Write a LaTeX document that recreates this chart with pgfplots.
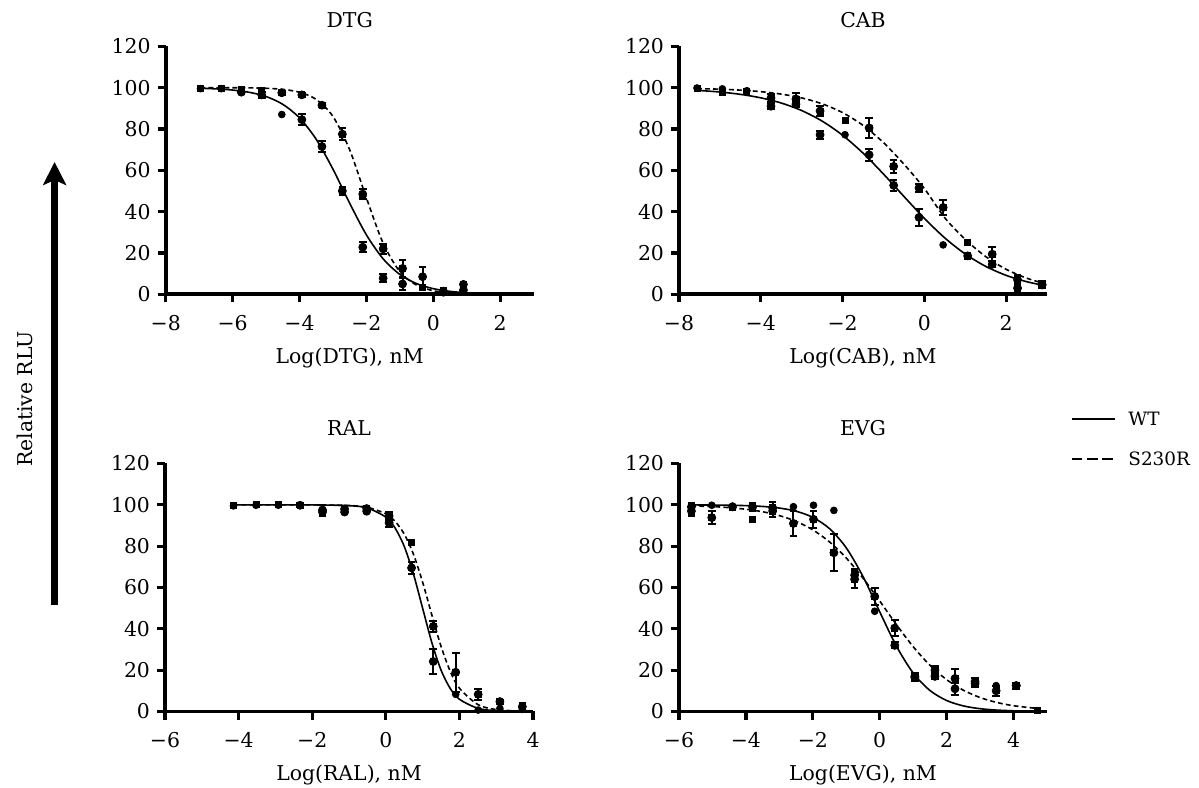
\documentclass[border=0pt]{standalone}
\usepackage{fontspec}
\setmainfont{DejaVu Serif}
\usepackage{pgfplots}
\pgfplotsset{compat=1.18}
\usetikzlibrary{arrows.meta}

\pgfplotsset{
  panel/.style={
    scale only axis, width=184bp, height=124bp, anchor=south west,
    axis x line*=bottom, axis y line*=left,
    ymin=0, ymax=120, ytick={0,20,...,120},
    yticklabels={0,20,40,60,80,100,120},
    tick align=outside, major tick length=4bp,
    axis line style={line width=1.9bp},
    every tick/.style={line width=1.6bp, black},
    xticklabel style={yshift=-3bp},
    clip=false,
    xlabel style={at={(axis description cs:0.5,0)}, anchor=base, yshift=-34.5bp},
  },
  toptitle/.style={title style={at={(axis description cs:0.5,1)}, anchor=base, yshift=3.5bp}},
  bottitle/.style={title style={at={(axis description cs:0.5,1)}, anchor=base, yshift=8bp}},
  wt/.style={black, line width=0.8bp, smooth, mark=none},
  mut/.style={black, line width=0.8bp, smooth, mark=none, dash pattern=on 2.4bp off 1.6bp},
  wtpt/.style={only marks, mark=*, mark size=1.7bp, black},
  mutpt/.style={only marks, mark=square*, mark size=1.5bp, black},
  eb/.style={only marks, mark=none, black,
    /pgfplots/error bars/y dir=both, /pgfplots/error bars/y explicit,
    /pgfplots/error bars/error bar style={line width=1bp, solid},
    /pgfplots/error bars/error mark=-,
    /pgfplots/error bars/error mark options={rotate=90, mark size=1.9bp, line width=1bp}},
}

\begin{document}
\begin{tikzpicture}[font=\fontsize{10.2bp}{12bp}\selectfont]
\useasboundingbox (0,0) rectangle (599.5bp,394bp);

% DTG
\begin{axis}[panel, toptitle, at={(82.85bp,246.85bp)},
  xmin=-8, xmax=3, xtick={-8,-6,-4,-2,0,2},
  xticklabels={−8,−6,−4,−2,0,2},
  title=DTG, xlabel={Log(DTG), nM}]
\addplot[wt] coordinates {(-6.96,99.68) (-6.5,99.40) (-6,98.83) (-5.5,97.74) (-5,95.69) (-4.5,91.92) (-4,85.37) (-3.5,74.96) (-3,60.53) (-2.5,44.03) (-2,28.75) (-1.5,17.15) (-1,9.60) (-0.5,5.16) (0,2.72) (0.5,1.41) (0.9,0.83)};
\addplot[mut] coordinates {(-6.96,99.99) (-6.5,99.98) (-6,99.95) (-5.5,99.88) (-5,99.68) (-4.5,99.15) (-4,97.76) (-3.5,94.27) (-3,86.05) (-2.5,69.9) (-2,46.6) (-1.5,24.7) (-1,10.95) (-0.5,4.43) (0,1.71) (0.5,0.65) (0.9,0.3)};
\addplot[wtpt] coordinates {(-6.96,99.5) (-6.34,99.5) (-5.74,97.8) (-5.13,96.5) (-4.53,87) (-3.93,84.5) (-3.33,71.5) (-2.72,50) (-2.11,22.8) (-1.50,7.8) (-0.92,5) (-0.32,8.5) (0.30,1.5) (0.90,2)};
\addplot[mutpt] coordinates {(-6.96,99.5) (-6.34,99.5) (-5.74,99) (-5.13,98.5) (-4.53,97.5) (-3.93,96.5) (-3.33,91.5) (-2.72,77.5) (-2.11,48.5) (-1.50,22) (-0.92,12.5) (-0.32,3.5) (0.30,1) (0.90,4.8)};
\addplot[eb] coordinates {(-5.74,97.8) +- (0,1) (-5.13,96.5) +- (0,1.5) (-3.93,84.5) +- (0,2.5) (-3.33,71.5) +- (0,2.5) (-2.72,50) +- (0,2) (-2.11,22.8) +- (0,2.5) (-1.50,7.8) +- (0,1.8) (-0.92,5) +- (0,3) (-0.32,8.5) +- (0,4.5) (0.30,1.5) +- (0,1.5) (0.90,2) +- (0,1)};
\addplot[eb] coordinates {(-4.53,97.5) +- (0,1) (-3.93,96.5) +- (0,1) (-3.33,91.5) +- (0,0.8) (-2.72,77.5) +- (0,3) (-2.11,48.5) +- (0,2.5) (-1.50,22) +- (0,2.5) (-0.92,12.5) +- (0,4) (0.30,1) +- (0,1.2) (0.90,4.8) +- (0,1.2)};
\end{axis}

% CAB
\begin{axis}[panel, toptitle, at={(339.5bp,246.85bp)},
  xmin=-6, xmax=3, xtick={-6,-4,-2,0,2},
  xticklabels={−8,−4,−2,0,2},
  title=CAB, xlabel={Log(CAB), nM}]
\addplot[wt] coordinates {(-5.56,98.69) (-5,97.88) (-4.5,96.75) (-4,95.06) (-3.5,92.55) (-3,88.91) (-2.5,83.81) (-2,76.97) (-1.5,68.33) (-1,58.21) (-0.5,47.37) (0,36.76) (0.5,27.28) (1,19.50) (1.5,13.53) (2,9.17) (2.5,6.12) (2.9,4.39)};
\addplot[mut] coordinates {(-5.56,99.52) (-5,99.25) (-4.5,98.79) (-4,98.05) (-3.5,96.87) (-3,95.02) (-2.5,92.17) (-2,87.90) (-1.5,81.74) (-1,73.41) (-0.5,62.99) (0,51.21) (0.5,37.01) (1,26.59) (1.5,18.26) (2,12.10) (2.5,7.83) (2.9,5.45)};
\addplot[wtpt] coordinates {(-5.56,99.8) (-4.94,99.4) (-4.34,98.5) (-3.75,91) (-3.14,92) (-2.55,77.2) (-1.94,77.2) (-1.35,67.5) (-0.75,52.7) (-0.13,37.2) (0.46,23.9) (1.06,18.6) (1.66,14.5) (2.28,3) (2.88,4.5)};
\addplot[mutpt] coordinates {(-5.56,99.8) (-4.94,97.9) (-4.34,98.2) (-3.75,95) (-3.14,94.5) (-2.55,88.7) (-1.94,84.2) (-1.35,80.5) (-0.75,61.9) (-0.13,51.4) (0.46,42) (1.06,25.2) (1.66,19.4) (2.28,7) (2.88,4.8)};
\addplot[eb] coordinates {(-3.75,91) +- (0,1.5) (-3.14,92) +- (0,1.5) (-2.55,77.2) +- (0,2) (-1.35,67.5) +- (0,3) (-0.75,52.7) +- (0,2.5) (-0.13,37.2) +- (0,4) (1.06,18.6) +- (0,1.5) (1.66,14.5) +- (0,1.5) (2.28,3) +- (0,2) (2.88,4.5) +- (0,1.5)};
\addplot[eb] coordinates {(-3.75,95) +- (0,2) (-3.14,94.5) +- (0,3) (-2.55,88.7) +- (0,2.5) (-1.35,80.5) +- (0,5) (-0.75,61.9) +- (0,3) (-0.13,51.4) +- (0,2) (0.46,42) +- (0,3.5) (1.66,19.4) +- (0,3.5) (2.28,7) +- (0,2.5) (2.88,4.8) +- (0,1.5)};
\end{axis}

% RAL
\begin{axis}[panel, bottitle, at={(82.5bp,38.25bp)},
  xmin=-6, xmax=4, xtick={-6,-4,-2,0,2,4},
  xticklabels={−6,−4,−2,0,2,4},
  title=RAL, xlabel={Log(RAL), nM}]
\addplot[wt] coordinates {(-4.14,100) (-3,100) (-2,99.97) (-1,99.60) (-0.5,98.44) (0,94.06) (0.25,88.82) (0.5,79.92) (0.75,66.61) (1,50) (1.25,33.39) (1.5,20.08) (1.75,11.18) (2,5.94) (2.5,1.56) (3,0.40) (3.71,0.06)};
\addplot[mut] coordinates {(-4.14,100) (-2,99.97) (-1,99.66) (-0.5,98.77) (0,95.67) (0.25,92.06) (0.5,85.88) (0.75,76.15) (1,62.62) (1.25,46.77) (1.5,31.57) (1.75,19.49) (2,11.27) (2.5,3.38) (3,0.95) (3.71,0.15)};
\addplot[wtpt] coordinates {(-4.14,99.5) (-3.53,99.8) (-2.92,99.8) (-2.33,99.6) (-1.72,97.5) (-1.12,96.5) (-0.52,96.9) (0.09,91.3) (0.70,69.5) (1.29,24.2) (1.90,8.3) (2.51,0.7) (3.10,1.5) (3.71,1)};
\addplot[mutpt] coordinates {(-4.14,99.8) (-3.53,100) (-2.92,100) (-2.33,99.8) (-1.72,96.5) (-1.12,98) (-0.52,98.2) (0.09,94.6) (0.70,81.6) (1.29,41.2) (1.90,19) (2.51,8.3) (3.10,4.8) (3.71,2.3)};
\addplot[eb] coordinates {(-1.72,97.5) +- (0,1) (-1.12,96.5) +- (0,1) (-0.52,96.9) +- (0,1) (0.09,91.3) +- (0,2) (0.70,69.5) +- (0,3) (1.29,24.2) +- (0,6)};
\addplot[eb] coordinates {(-2.33,99.8) +- (0,1) (-1.72,96.5) +- (0,2) (-1.12,98) +- (0,1) (-0.52,98.2) +- (0,1) (0.09,94.6) +- (0,2) (1.29,41.2) +- (0,2.5) (1.90,19) +- (0,9.5) (2.51,8.3) +- (0,2.5) (3.10,4.8) +- (0,1) (3.71,2.3) +- (0,2)};
\end{axis}

% EVG
\begin{axis}[panel, bottitle, at={(339.5bp,38.25bp)},
  xmin=-6, xmax=5, xtick={-6,-4,-2,0,2,4},
  xticklabels={−6,−4,−2,0,2,4},
  title=EVG, xlabel={Log(EVG), nM}]
\addplot[wt] coordinates {(-5.63,99.96) (-5,99.90) (-4.5,99.81) (-4,99.61) (-3.5,99.22) (-3,98.44) (-2.5,96.90) (-2,93.93) (-1.5,88.47) (-1,79.18) (-0.5,65.30) (0,48.24) (0.5,31.59) (1,18.62) (1.5,10.18) (2,5.32) (2.5,2.71) (3,1.36) (3.5,0.68) (4.08,0.29)};
\addplot[mut] coordinates {(-5.63,99.51) (-5,99.14) (-4.5,98.64) (-4,97.86) (-3.5,96.65) (-3,94.79) (-2.5,91.99) (-2,87.87) (-1.5,82.05) (-1,74.26) (-0.5,64.54) (0,53.45) (0.5,42.02) (1,31.37) (1.5,22.39) (2,15.40) (2.5,10.30) (3,6.76) (3.5,4.37) (4,2.80) (4.7,1.49)};
\addplot[wtpt] coordinates {(-5.63,99) (-5.02,99.8) (-4.40,99.4) (-3.80,99) (-3.20,98.5) (-2.58,99.1) (-1.98,99.8) (-1.37,97.3) (-0.75,66) (-0.15,48.5) (0.45,32) (1.05,16.5) (1.65,17) (2.25,11) (2.85,13.5) (3.48,12.5) (4.08,12.5)};
\addplot[mutpt] coordinates {(-5.63,97) (-5.02,93.8) (-4.40,99) (-3.80,93) (-3.20,97) (-2.58,91) (-1.98,93) (-1.37,76.8) (-0.75,64) (-0.15,55.7) (0.45,40.4) (1.05,17) (1.65,20) (2.25,16) (2.85,14.5) (3.48,10) (4.08,12.5) (4.7,0.3)};
\addplot[eb] coordinates {(-5.63,99) +- (0,2) (-3.80,99) +- (0,2) (-3.20,98.5) +- (0,3) (-0.75,66) +- (0,3) (0.45,32) +- (0,1.5) (1.05,16.5) +- (0,1.5) (1.65,17) +- (0,1.5) (2.25,11) +- (0,3) (2.85,13.5) +- (0,1.5) (4.08,12.5) +- (0,1.5)};
\addplot[eb] coordinates {(-5.63,97) +- (0,2.5) (-5.02,93.8) +- (0,3) (-4.40,99) +- (0,1) (-3.20,97) +- (0,3) (-2.58,91) +- (0,6) (-1.98,93) +- (0,4) (-1.37,76.8) +- (0,9) (-0.75,64) +- (0,4) (-0.15,55.7) +- (0,4) (0.45,40.4) +- (0,4) (1.05,17) +- (0,1.5) (1.65,20) +- (0,2) (2.25,16) +- (0,4.5) (2.85,14.5) +- (0,1.5) (3.48,10) +- (0,2.5) (4.08,12.5) +- (0,1.5)};
\end{axis}

% shared y label and arrow
\draw[line width=3.6bp, -{Stealth[length=11.5bp, width=11.5bp, inset=2.5bp]}] (27.3bp,91.5bp) -- (27.3bp,313bp);
\node[rotate=90, anchor=center] at (12.5bp,194.5bp) {Relative RLU};

% legend
\begin{scope}[font=\fontsize{9.2bp}{11bp}\selectfont]
\draw[line width=1.3bp] (536bp,184.5bp) -- (557.5bp,184.5bp);
\node[anchor=west, inner sep=0pt] at (564bp,184.5bp) {WT};
\draw[line width=1.3bp, dash pattern=on 5.2bp off 2.4bp] (536bp,164.5bp) -- (557.5bp,164.5bp);
\node[anchor=west, inner sep=0pt] at (564bp,164.5bp) {S230R};
\end{scope}
\end{tikzpicture}
\end{document}
